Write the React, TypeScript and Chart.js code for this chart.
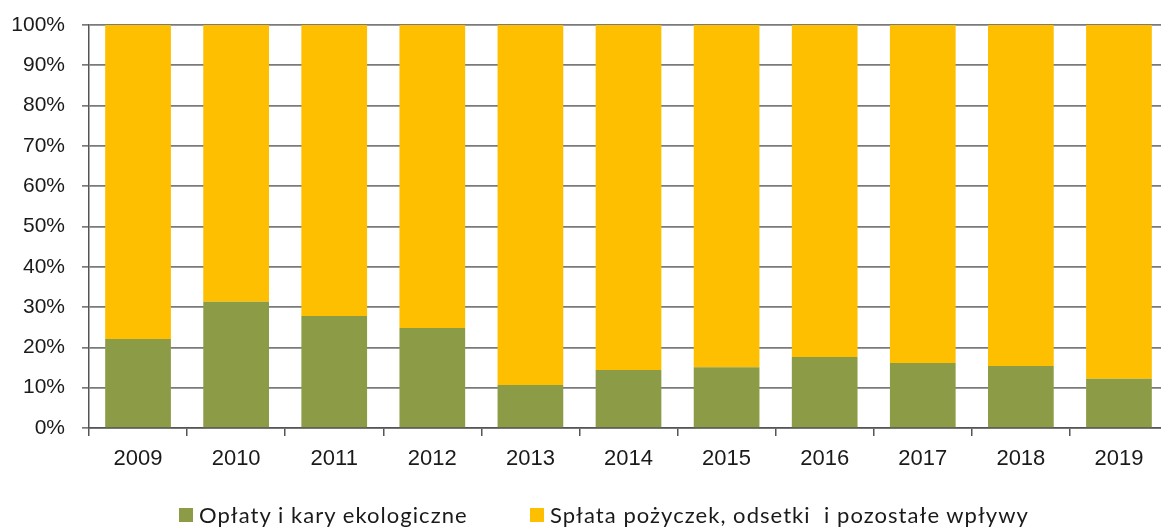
import React, { useEffect, useRef } from "react";
import { Chart, registerables } from "chart.js";

Chart.register(...registerables);

const years = ["2009", "2010", "2011", "2012", "2013", "2014", "2015", "2016", "2017", "2018", "2019"];
const oplaty = [22.1, 31.3, 27.8, 24.8, 10.7, 14.4, 15.1, 17.6, 16.1, 15.4, 12.2];
const splata = [77.9, 68.7, 72.2, 75.2, 89.3, 85.6, 84.9, 82.4, 83.9, 84.6, 87.8];
const seriesLabels = ["Opłaty i kary ekologiczne", "Spłata pożyczek, odsetki  i pozostałe wpływy"];
const seriesColors = ["#8C9C46", "#FDBF00"];
const yTicks = [0, 10, 20, 30, 40, 50, 60, 70, 80, 90, 100];

export default function App() {
  const ref = useRef<HTMLCanvasElement | null>(null);

  useEffect(() => {
    if (!ref.current) return;
    const chart = new Chart(ref.current, {
      type: "bar",
      data: {
        labels: years,
        datasets: [
          { label: seriesLabels[0], data: oplaty, backgroundColor: seriesColors[0], barPercentage: 0.67, categoryPercentage: 1 },
          { label: seriesLabels[1], data: splata, backgroundColor: seriesColors[1], barPercentage: 0.67, categoryPercentage: 1 },
        ],
      },
      options: {
        animation: false,
        responsive: false,
        maintainAspectRatio: false,
        layout: { padding: { top: 25, right: 2, bottom: 49, left: 0 } },
        plugins: { legend: { display: false }, tooltip: { enabled: false } },
        scales: {
          x: {
            stacked: true,
            afterFit: (s: any) => { s.height = 50; },
            grid: { display: true, drawOnChartArea: false, drawTicks: true, tickLength: 8, color: "#555", lineWidth: 1.5 },
            border: { display: true, color: "#555", width: 1.5 },
            ticks: { color: "#1a1a1a", padding: 10, font: { family: "Liberation Sans", size: 22 } },
          },
          y: {
            stacked: true,
            min: 0,
            max: 100,
            afterFit: (s: any) => { s.width = 89; s.paddingTop = 0; s.paddingBottom = 0; },
            afterBuildTicks: (s: any) => { s.ticks = yTicks.map((v) => ({ value: v })); },
            grid: { color: "#7a7a7a", lineWidth: 1.7, drawTicks: true, tickLength: 7 },
            border: { display: true, color: "#555", width: 1.5 },
            ticks: { color: "#1a1a1a", padding: 17, font: { family: "Liberation Sans", size: 21 }, callback: (v: any) => v + "%" },
          },
        },
      },
    });
    return () => chart.destroy();
  }, []);

  return (
    <div style={{ position: "fixed", left: 0, top: 0, width: 1161, height: 527, overflow: "hidden", background: "#fff" }}>
      <canvas ref={ref} width={1170} height={527} style={{ position: "absolute", left: 0, top: 0, width: 1170, height: 527 }} />
      {seriesLabels.map((lab, i) => (
        <div
          key={lab}
          style={{
            position: "absolute",
            left: i === 0 ? 179 : 530,
            top: 502,
            display: "flex",
            alignItems: "center",
            fontFamily: "Lato, 'Open Sans', sans-serif",
            fontSize: 22,
            letterSpacing: "1.05px",
            color: "#1a1a1a",
            whiteSpace: "pre",
            lineHeight: "26px",
          }}
        >
          <span style={{ display: "inline-block", width: 14, height: 14, background: seriesColors[i], marginRight: 6 }} />
          <span>{lab}</span>
        </div>
      ))}
    </div>
  );
}
